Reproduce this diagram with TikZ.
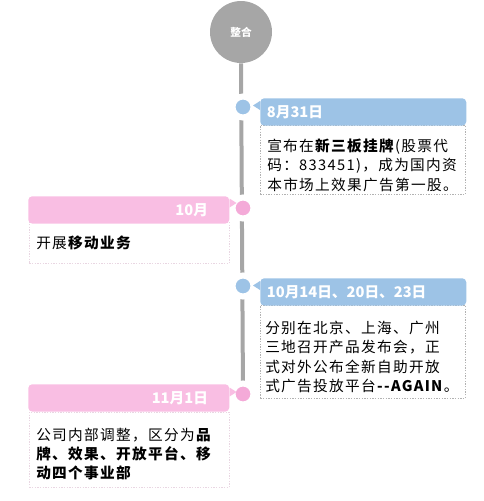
\documentclass[tikz,border=0pt]{standalone}
\usepackage{fontspec}
\usetikzlibrary{backgrounds}
\newfontfamily\cjk[LetterSpace=9]{Noto Sans CJK SC}
\newfontfamily\cjkhead{Noto Sans CJK SC}
\definecolor{tlblue}{HTML}{9DC3E6}
\definecolor{tlpink}{HTML}{F9BEE3}
\definecolor{tldotpink}{HTML}{F4AAD8}
\definecolor{tlgray}{HTML}{A6A6A6}
\tikzset{
  head/.style={anchor=north west, minimum height=20.5pt, rounded corners=3pt,
    text=white, font=\cjkhead\bfseries\fontsize{11}{13}\selectfont},
  bluehead/.style={head, fill=tlblue, align=left, text width=144.5pt, inner xsep=5pt},
  pinkhead/.style={head, fill=tlpink, align=right, text width=118.75pt, inner xsep=16pt},
  body/.style={anchor=north west, draw, dash pattern=on 1pt off 1pt, line width=0.4pt,
    inner sep=0pt},
  bluebody/.style={body, draw=black!30, minimum width=153.75pt},
  pinkbody/.style={body, draw=tlpink!80!black!40, minimum width=150pt},
  bodytext/.style={anchor=west, align=left, inner sep=0pt,
    font=\cjk\fontsize{11}{14.6}\selectfont},
  dot/.style={circle, draw=white, line width=4.5pt, minimum size=15.75pt, inner sep=0pt}
}
\begin{document}
\begin{tikzpicture}[x=0.75pt,y=-0.75pt]
\useasboundingbox (0,0) rectangle (484,501);
% title and time line
\node[circle, fill=tlgray, minimum size=46.5pt, inner sep=0pt, text=white,
  font=\cjkhead\bfseries\fontsize{8}{9}\selectfont] (title) at (241,32) {整合};
\node[dot, fill=tlblue] (d1) at (243,107) {};
\node[dot, fill=tldotpink] (d2) at (243,208) {};
\node[dot, fill=tlblue] (d3) at (243,286) {};
\node[dot, fill=tldotpink] (d4) at (243,394) {};
\begin{scope}[on background layer]
\draw[tlgray, line width=3pt] (title.south) -- (d4.center);
\end{scope}
% 8.31
\node[bluebody, minimum height=51.75pt] (b1) at (260,125) {};
\node[bodytext] (t1) at (267,165)
  {宣布在\textbf{新三板挂牌}(股票代\\码：833451)，成为国内资\\本市场上效果广告第一股。};
\node[bluehead] (h1) at (260,98) {8月31日};
\fill[tlblue] (h1.north west) ++(0,3) -- ++(-7,4.5) -- ++(7,4.5) -- cycle;
% 10
\node[pinkbody, minimum height=30.75pt] (b2) at (29,222) {};
\node[bodytext] (t2) at (36,243) {开展\textbf{移动业务}};
\node[pinkhead] (h2) at (28,196) {10月};
\fill[tlpink] (h2.north east) ++(0,2.5) -- ++(7,4.5) -- ++(-7,4.5) -- cycle;
% 10.14 / 20 / 23
\node[bluebody, minimum height=69.75pt] (b3) at (260,305) {};
\node[bodytext] (t3) at (265,357)
  {分别在北京、上海、广州\\三地召开产品发布会，正\\式对外公布全新自助开放\\式广告投放平台\textbf{-{}-AGAIN}。};
\node[bluehead] (h3) at (260,278) {10月14日、20日、23日};
\fill[tlblue] (h3.north west) ++(0,3) -- ++(-7,4.5) -- ++(7,4.5) -- cycle;
% 11.1
\node[pinkbody, minimum height=56.25pt] (b4) at (29,412) {};
\node[bodytext] (t4) at (36,454)
  {公司内部调整，区分为\textbf{品}\\\textbf{牌、效果、开放平台、移}\\\textbf{动四个事业部}};
\node[pinkhead] (h4) at (28,384) {11月1日};
\fill[tlpink] (h4.north east) ++(0,3.5) -- ++(7,4.5) -- ++(-7,4.5) -- cycle;
\end{tikzpicture}
\end{document}
